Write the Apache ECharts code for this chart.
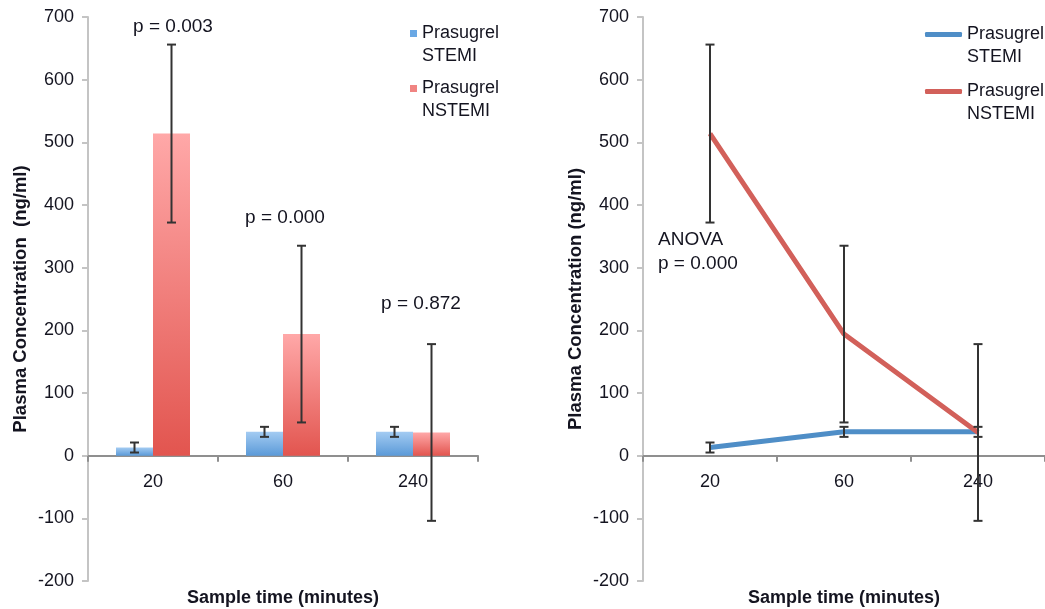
<!DOCTYPE html>
<html>
<head>
<meta charset="utf-8">
<script src="https://cdn.jsdelivr.net/npm/echarts@6/dist/echarts.min.js"></script>
<style>
html,body{margin:0;padding:0;background:#fff;}
#c{width:1045px;height:609px;}
</style>
</head>
<body>
<div id="c"></div>
<script>
// ---- data ----
const categories = ['20', '60', '240'];
const stemiMean = [13, 38, 38];
const stemiErr = [8, 8, 8];
const nstemiMean = [514, 194, 37];
const nstemiErr = [142, 141, 141];
const yTicks = { min: -200, max: 700, interval: 100 };
const pLabels = ['p = 0.003', 'p = 0.000', 'p = 0.872'];
const pLabelY = [684, 379, 243];
const anovaLabel = 'ANOVA\np = 0.000';
const anovaY = 326;
const nameStemi = 'Prasugrel\nSTEMI';
const nameNstemi = 'Prasugrel\nNSTEMI';

// ---- styling ----
const FONT = '"Liberation Sans", Arial, Helvetica, sans-serif';
const TXT = '#141420';
const BAR_W = 37;
const CAP = 4.5;

function errData(mean, err) {
  return mean.map((m, i) => [i, m - err[i], m + err[i]]);
}
function errSeries(idx, mean, err, offset) {
  return {
    type: 'custom',
    xAxisIndex: idx, yAxisIndex: idx,
    z: 10,
    silent: true,
    data: errData(mean, err),
    renderItem: function (params, api) {
      const c = api.value(0);
      const lo = api.coord([c, api.value(1)]);
      const hi = api.coord([c, api.value(2)]);
      const x = lo[0] + offset;
      const st = { stroke: '#333', lineWidth: 2 };
      return {
        type: 'group',
        children: [
          { type: 'line', shape: { x1: x, y1: hi[1], x2: x, y2: lo[1] }, style: st },
          { type: 'line', shape: { x1: x - CAP, y1: hi[1], x2: x + CAP, y2: hi[1] }, style: st },
          { type: 'line', shape: { x1: x - CAP, y1: lo[1], x2: x + CAP, y2: lo[1] }, style: st }
        ]
      };
    }
  };
}
function grad(top, bottom) {
  return { type: 'linear', x: 0, y: 0, x2: 0, y2: 1,
    colorStops: [{ offset: 0, color: top }, { offset: 1, color: bottom }] };
}
function yAxisCfg(idx, name) {
  return {
    gridIndex: idx, type: 'value',
    min: yTicks.min, max: yTicks.max, interval: yTicks.interval,
    name: name, nameLocation: 'middle', nameGap: 58,
    nameTextStyle: { fontFamily: FONT, fontSize: 18.5, fontWeight: 'bold', color: TXT },
    axisLine: { show: true, lineStyle: { color: '#c4c4c4', width: 2 } },
    axisTick: { show: true, length: 6, lineStyle: { color: '#c4c4c4', width: 2 } },
    splitLine: { show: false },
    axisLabel: { fontFamily: FONT, fontSize: 18, color: TXT, margin: 14 }
  };
}
function xAxisCfg(idx) {
  return {
    gridIndex: idx, type: 'category', data: categories,
    name: 'Sample time (minutes)', nameLocation: 'middle', nameGap: 8,
    nameTextStyle: { fontFamily: FONT, fontSize: 18, fontWeight: 'bold', color: TXT },
    axisLine: { show: true, onZero: true, lineStyle: { color: '#8f8f8f', width: 2 } },
    axisTick: { show: true, length: 6, lineStyle: { color: '#8f8f8f', width: 2 } },
    axisLabel: { fontFamily: FONT, fontSize: 18, color: TXT, margin: -108 }
  };
}
// text block gets a leading blank line so the icon sits beside the first line
function legendCfg(name, left, top, icon, w, h, color) {
  return {
    left: left, top: top, padding: 0, orient: 'vertical',
    itemWidth: w, itemHeight: h, selectedMode: false,
    formatter: function (n) { return ' \n' + n; },
    textStyle: { fontFamily: FONT, fontSize: 18, color: TXT, lineHeight: 23 },
    data: [{ name: name, icon: icon, itemStyle: { color: color } }]
  };
}
function annot(idx, labels, ys, offs, align) {
  return {
    type: 'scatter', xAxisIndex: idx, yAxisIndex: idx,
    symbolSize: 0, silent: true, z: 20,
    itemStyle: { opacity: 1 },
    data: labels.map((t, i) => ({
      value: [i, ys[i]],
      label: { show: true, position: 'inside', formatter: t, offset: [offs[i], 0], align: align,
               color: TXT, fontFamily: FONT, fontSize: 19, lineHeight: 24 }
    })),
    label: { fontFamily: FONT, fontSize: 19, color: TXT, lineHeight: 24 }
  };
}

const option = {
  animation: false,
  backgroundColor: '#fff',
  grid: [
    { left: 88, top: 17, width: 390, height: 564, outerBoundsMode: 'none', containLabel: false },
    { left: 643, top: 17, width: 402, height: 564, outerBoundsMode: 'none', containLabel: false }
  ],
  xAxis: [xAxisCfg(0), xAxisCfg(1)],
  yAxis: [yAxisCfg(0, 'Plasma Concentration  (ng/ml)'), yAxisCfg(1, 'Plasma Concentration (ng/ml)')],
  legend: [
    legendCfg(nameStemi, 410, -1, 'rect', 7, 7, '#6aa8e4'),
    legendCfg(nameNstemi, 410, 54, 'rect', 7, 7, '#f08482'),
    legendCfg(nameStemi, 925, 0, 'roundRect', 37, 5, '#4f8ec7'),
    legendCfg(nameNstemi, 925, 57, 'roundRect', 37, 5, '#d2605a')
  ],
  series: [
    { name: nameStemi, type: 'bar', xAxisIndex: 0, yAxisIndex: 0,
      barWidth: BAR_W, barGap: '0%', data: stemiMean,
      itemStyle: { color: grad('#a3cbf2', '#5b9ad8') } },
    { name: nameNstemi, type: 'bar', xAxisIndex: 0, yAxisIndex: 0,
      barWidth: BAR_W, barGap: '0%', data: nstemiMean,
      itemStyle: { color: grad('#ffa8a8', '#e2554f') } },
    errSeries(0, stemiMean, stemiErr, -BAR_W / 2),
    errSeries(0, nstemiMean, nstemiErr, BAR_W / 2),
    { name: nameStemi, type: 'line', xAxisIndex: 1, yAxisIndex: 1,
      data: stemiMean, symbol: 'none', lineStyle: { color: '#4f8ec7', width: 5 },
      itemStyle: { color: '#4f8ec7' } },
    { name: nameNstemi, type: 'line', xAxisIndex: 1, yAxisIndex: 1,
      data: nstemiMean, symbol: 'none', lineStyle: { color: '#d2605a', width: 5 },
      itemStyle: { color: '#d2605a' } },
    errSeries(1, stemiMean, stemiErr, 0),
    errSeries(1, nstemiMean, nstemiErr, 0),
    annot(0, pLabels, pLabelY, [20, 2, 8], 'center'),
    annot(1, [anovaLabel], [anovaY], [-52], 'left')
  ]
};

const chart = echarts.init(document.getElementById('c'), null, { renderer: 'canvas' });
chart.setOption(option);
</script>
</body>
</html>
